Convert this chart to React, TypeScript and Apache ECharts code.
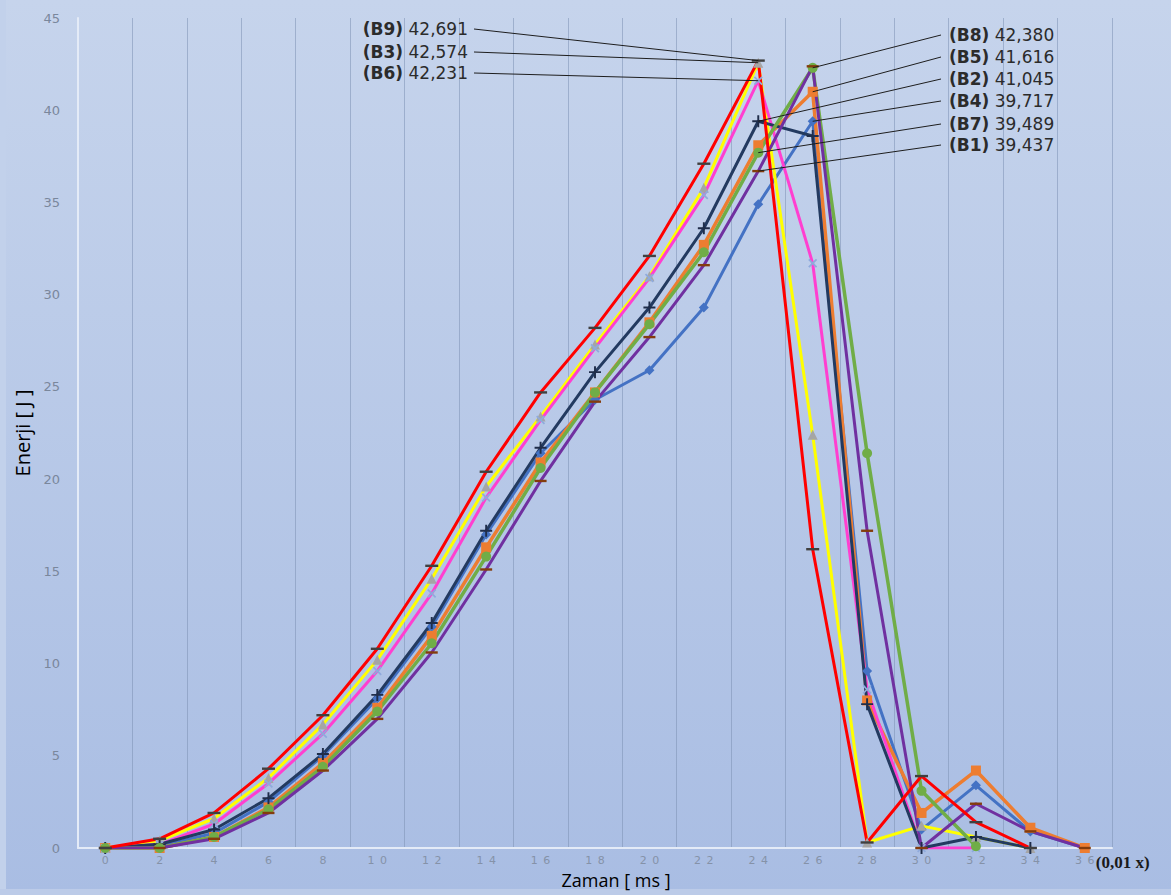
import React, { useEffect, useRef } from "react";
import * as echarts from "echarts";

const categories = ["0","2","4","6","8","10","12","14","16","18","20","22","24","26","28","30","32","34","36"];

const blueB4 =   [0, 0.1, 0.8, 2.5, 5.0, 8.1, 12.0, 17.0, 21.4, 24.3, 25.9, 29.3, 34.9, 39.4, 9.6, 1.0, 3.4, 0.9, 0];
const orangeB5 = [0, 0.0, 0.6, 2.2, 4.6, 7.6, 11.5, 16.3, 20.9, 24.7, 28.5, 32.7, 38.1, 41.0, 8.0, 1.9, 4.2, 1.1, 0];
const yellowB3 = [0, 0.4, 1.6, 3.8, 6.7, 10.2, 14.6, 19.6, 23.4, 27.3, 31.0, 35.8, 42.574, 22.4, 0.3, 1.2, 0.6, 0, null];
const pinkB6 =   [0, 0.2, 1.3, 3.5, 6.2, 9.6, 13.8, 19.0, 23.2, 27.1, 30.9, 35.4, 41.6, 31.7, 8.6, 0, 0, null, null];
const navyB2 =   [0, 0.2, 1.0, 2.7, 5.1, 8.3, 12.2, 17.2, 21.7, 25.8, 29.3, 33.6, 39.4, 38.6, 7.8, 0, 0.6, 0, null];
const greenB8 =  [0, 0.0, 0.6, 2.1, 4.4, 7.4, 11.1, 15.8, 20.6, 24.7, 28.4, 32.3, 37.7, 42.3, 21.4, 3.1, 0.1, null, null];
const purpleB1 = [0, 0.0, 0.5, 1.9, 4.2, 7.0, 10.6, 15.1, 19.9, 24.2, 27.7, 31.6, 36.7, 42.38, 17.2, 0, 2.4, 0.9, 0];
const redB9 =    [0, 0.5, 1.9, 4.3, 7.2, 10.8, 15.3, 20.4, 24.7, 28.2, 32.1, 37.1, 42.691, 16.2, 0.3, 3.9, 1.4, 0, null];

const yTicks = [0, 5, 10, 15, 20, 25, 30, 35, 40, 45];

const annLeftNames = ["(B9)", "(B3)", "(B6)"];
const annLeftValues = ["42,691", "42,574", "42,231"];
const annLeftTargets: [string, number][] = [["red", 12], ["yellow", 12], ["pink", 12]];
const annRightNames = ["(B8)", "(B5)", "(B2)", "(B4)", "(B7)", "(B1)"];
const annRightValues = ["42,380", "41,616", "41,045", "39,717", "39,489", "39,437"];
const annRightTargets: [string, number][] = [["green", 13], ["orange", 13], ["navy", 12], ["blue", 13], ["green", 12], ["purple", 12]];

const DASH = "path://M0,0h10v2h-10z";
const PLUS = "path://M4.2,0h1.6v4.2h4.2v1.6h-4.2v4.2h-1.6v-4.2h-4.2v-1.6h4.2z";

const seriesDefs = [
  { key: "blue", name: "B4", data: blueB4, color: "#4472C4", symbol: "diamond", size: 10, mcolor: "#4472C4", width: 3 },
  { key: "orange", name: "B5", data: orangeB5, color: "#ED7D31", symbol: "rect", size: 10, mcolor: "#ED7D31", width: 3.5 },
  { key: "yellow", name: "B3", data: yellowB3, color: "#FFFF00", symbol: "triangle", size: 10, mcolor: "#A5A5A5", width: 3 },
  { key: "pink", name: "B6", data: pinkB6, color: "#FF3FD0", symbol: PLUS, size: 11, mcolor: "#8FAADC", width: 3, rotate: 45 },
  { key: "navy", name: "B2", data: navyB2, color: "#233A60", symbol: PLUS, size: 12, mcolor: "#1F2D4A", width: 3 },
  { key: "green", name: "B8", data: greenB8, color: "#70AD47", symbol: "circle", size: 10, mcolor: "#70AD47", width: 3.5 },
  { key: "purple", name: "B1", data: purpleB1, color: "#7030A0", symbol: DASH, size: [12, 2.4], mcolor: "#843C0C", width: 3 },
  { key: "red", name: "B9", data: redB9, color: "#FF0000", symbol: DASH, size: [13, 2.4], mcolor: "#404040", width: 3 },
];

export default function App() {
  const ref = useRef<HTMLDivElement>(null);
  useEffect(() => {
    if (!ref.current) return;
    const chart = echarts.init(ref.current, null, { renderer: "svg" });
    const option: any = {
      animation: false,
      backgroundColor: new echarts.graphic.LinearGradient(0, 0, 0, 1, [
        { offset: 0, color: "#c6d4ec" },
        { offset: 1, color: "#a9bde3" },
      ]),
      grid: { left: 78, right: 59, top: 18, bottom: 47 },
      xAxis: {
        type: "category",
        data: categories,
        boundaryGap: true,
        axisLine: { show: true, lineStyle: { color: "#e4ebf7", width: 2 } },
        axisTick: { show: false },
        axisLabel: {
          interval: 0,
          margin: 7,
          color: "#8592a8",
          fontSize: 11,
          fontFamily: "DejaVu Sans",
          formatter: (v: string) => v.split("").join("\u2002"),
        },
        splitLine: { show: true, interval: 0, lineStyle: { color: "rgba(125,145,180,0.55)", width: 1 } },
      },
      yAxis: {
        type: "value",
        min: 0,
        max: 45,
        interval: 5,
        axisLine: { show: true, lineStyle: { color: "#e4ebf7", width: 2 } },
        axisTick: { show: false },
        axisLabel: { margin: 18, color: "#7a879c", fontSize: 13, fontFamily: "DejaVu Sans",
          formatter: (v: number) => (yTicks.includes(v) ? String(v) : "") },
        splitLine: { show: false },
        name: "Enerji [ J ]",
        nameLocation: "middle",
        nameRotate: 90,
        nameGap: 46,
        nameTextStyle: { color: "#000", fontSize: 20, fontFamily: "Open Sans" },
      },
      series: seriesDefs.map((s) => ({
        name: s.name,
        type: "line",
        data: s.data,
        symbol: s.symbol,
        symbolSize: s.size,
        symbolRotate: (s as any).rotate || 0,
        showAllSymbol: true,
        connectNulls: false,
        lineStyle: { color: s.color, width: s.width },
        itemStyle: { color: s.mcolor, borderWidth: 0 },
        emphasis: { disabled: true },
        z: 2,
      })),
    };
    chart.setOption(option);

    const keyIndex: Record<string, number> = {};
    seriesDefs.forEach((s, i) => (keyIndex[s.key] = i));
    const pt = (key: string, idx: number) => {
      const s = seriesDefs[keyIndex[key]];
      return chart.convertToPixel({ gridIndex: 0 } as any, [idx, s.data[idx] as number]) as number[];
    };

    const textStyleBase = { fontSize: 17, fontFamily: "DejaVu Sans", fill: "#2b2b2b" };
    const rich = { b: { fontWeight: "bold", fontSize: 17, fontFamily: "DejaVu Sans", fill: "#2b2b2b", color: "#2b2b2b" } };
    const graphics: any[] = [];
    graphics.push({ type: "rect", z: -1, shape: { x: 0, y: 0, width: 6, height: 895 }, style: { fill: "#c2d1eb" } });
    graphics.push({ type: "rect", z: -1, shape: { x: 0, y: 889, width: 1171, height: 6 }, style: { fill: "#bccbe8" } });
    const leftY = [29, 52, 73];
    annLeftNames.forEach((n, i) => {
      const [px, py] = pt(annLeftTargets[i][0], annLeftTargets[i][1]);
      graphics.push({
        type: "text", x: 468, y: leftY[i], z: 100,
        style: { ...textStyleBase, text: `{b|${n}} ${annLeftValues[i]}`, rich, align: "right", verticalAlign: "middle" },
      });
      graphics.push({ type: "line", z: 99, shape: { x1: 474, y1: leftY[i], x2: px, y2: py }, style: { stroke: "#1e1e1e", lineWidth: 1 } });
    });
    const rightY = [35, 57, 79, 101, 124, 145];
    annRightNames.forEach((n, i) => {
      const [px, py] = pt(annRightTargets[i][0], annRightTargets[i][1]);
      graphics.push({
        type: "text", x: 949, y: rightY[i], z: 100,
        style: { ...textStyleBase, text: `{b|${n}} ${annRightValues[i]}`, rich, align: "left", verticalAlign: "middle" },
      });
      graphics.push({ type: "line", z: 99, shape: { x1: 941, y1: rightY[i], x2: px, y2: py }, style: { stroke: "#1e1e1e", lineWidth: 1 } });
    });
    const [lx, ly] = chart.convertToPixel({ gridIndex: 0 } as any, [18, 0]) as number[];
    graphics.push({
      type: "text", x: lx + 11, y: ly + 14, z: 100,
      style: { text: "(0,01 x)", fontSize: 17, fontWeight: "bold", fontFamily: "Liberation Serif", fill: "#1a1a1a", align: "left", verticalAlign: "middle" },
    });
    graphics.push({
      type: "text", x: 616, y: 880, z: 100,
      style: { text: "Zaman [ ms ]", fontSize: 18, lineHeight: 20, fontFamily: "Open Sans", fill: "#000", align: "center", verticalAlign: "middle" },
    });
    chart.setOption({ graphic: graphics });

    return () => chart.dispose();
  }, []);
  return <div ref={ref} style={{ position: "absolute", left: 0, top: 0, width: 1171, height: 895 }} />;
}
